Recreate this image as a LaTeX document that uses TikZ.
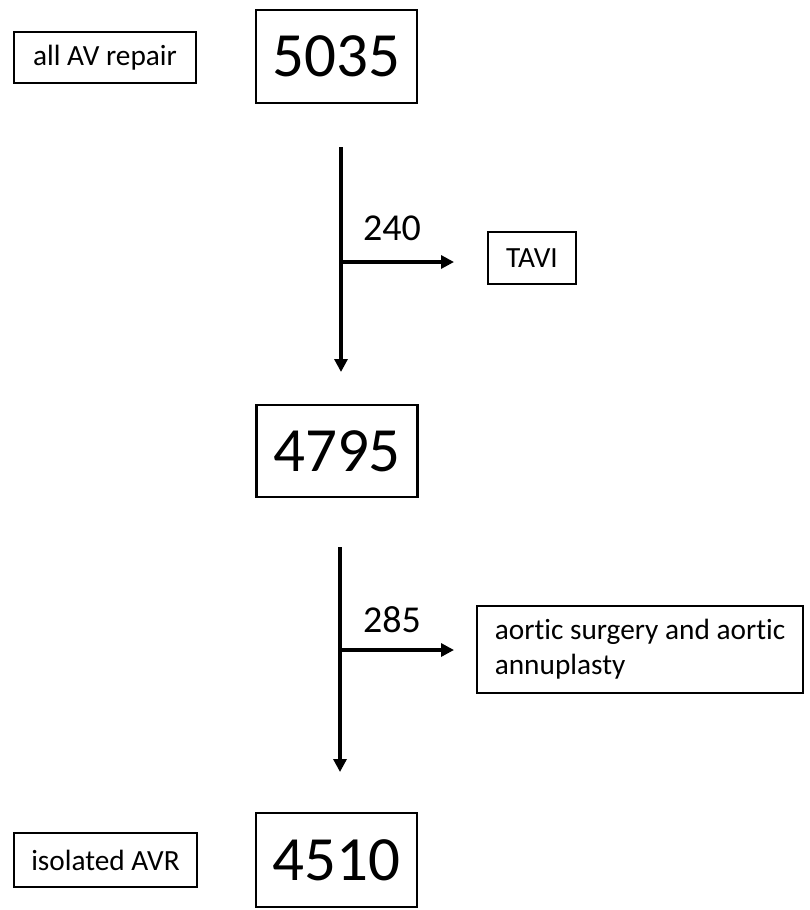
\documentclass[tikz,border=0pt]{standalone}
\usepackage{fontspec}
\setmainfont{Carlito}[Ligatures=NoCommon]
\usetikzlibrary{arrows.meta}
\begin{document}
\begin{tikzpicture}[x=1pt,y=-1pt,
  smallbox/.style={draw, line width=2.3pt, inner sep=0pt, font=\fontsize{29.3}{35}\selectfont, align=left},
  bigbox/.style={draw, line width=2.3pt, inner sep=0pt, minimum width=161pt, minimum height=93pt, font=\fontsize{63}{72}\selectfont},
  flowarrow/.style={line width=3.2pt, -{Triangle[length=13pt,width=13pt]}},
  countlabel/.style={font=\fontsize{38}{42}\selectfont, inner sep=0pt}]
\useasboundingbox (0,0) rectangle (810,910);
% boxes
\node[smallbox, minimum width=182pt, minimum height=51pt] (allav) at (105,57.5) {all AV repair};
\node[bigbox] (n5035) at (336.5,56.5) {5035};
\node[smallbox, minimum width=88pt, minimum height=52pt] (tavi) at (532,258) {TAVI};
\node[bigbox, minimum height=92pt] (n4795) at (337,451) {4795};
\node[smallbox, minimum width=326pt, minimum height=87pt] (aortic) at (640,649.5) {aortic surgery and aortic\\annuplasty};
\node[smallbox, minimum width=183pt, minimum height=54pt] (isoavr) at (105.5,860) {isolated AVR};
\node[bigbox, minimum height=94pt] (n4510) at (336.5,860) {4510};
% connector points
\coordinate (s1) at (341,147);
\coordinate (e1) at (341,372);
\coordinate (b1) at (341,262);
\coordinate (t1) at (454,262);
\coordinate (s2) at (340,547);
\coordinate (e2) at (340,772);
\coordinate (b2) at (340,650);
\coordinate (t2) at (454,650);
% arrows
\draw[flowarrow] (s1) -- (e1);
\draw[flowarrow] (b1) -- (t1);
\draw[flowarrow] (s2) -- (e2);
\draw[flowarrow] (b2) -- (t2);
% labels
\node[countlabel] (l240) at (392,228) {240};
\node[countlabel] (l285) at (392,620) {285};
\end{tikzpicture}
\end{document}
